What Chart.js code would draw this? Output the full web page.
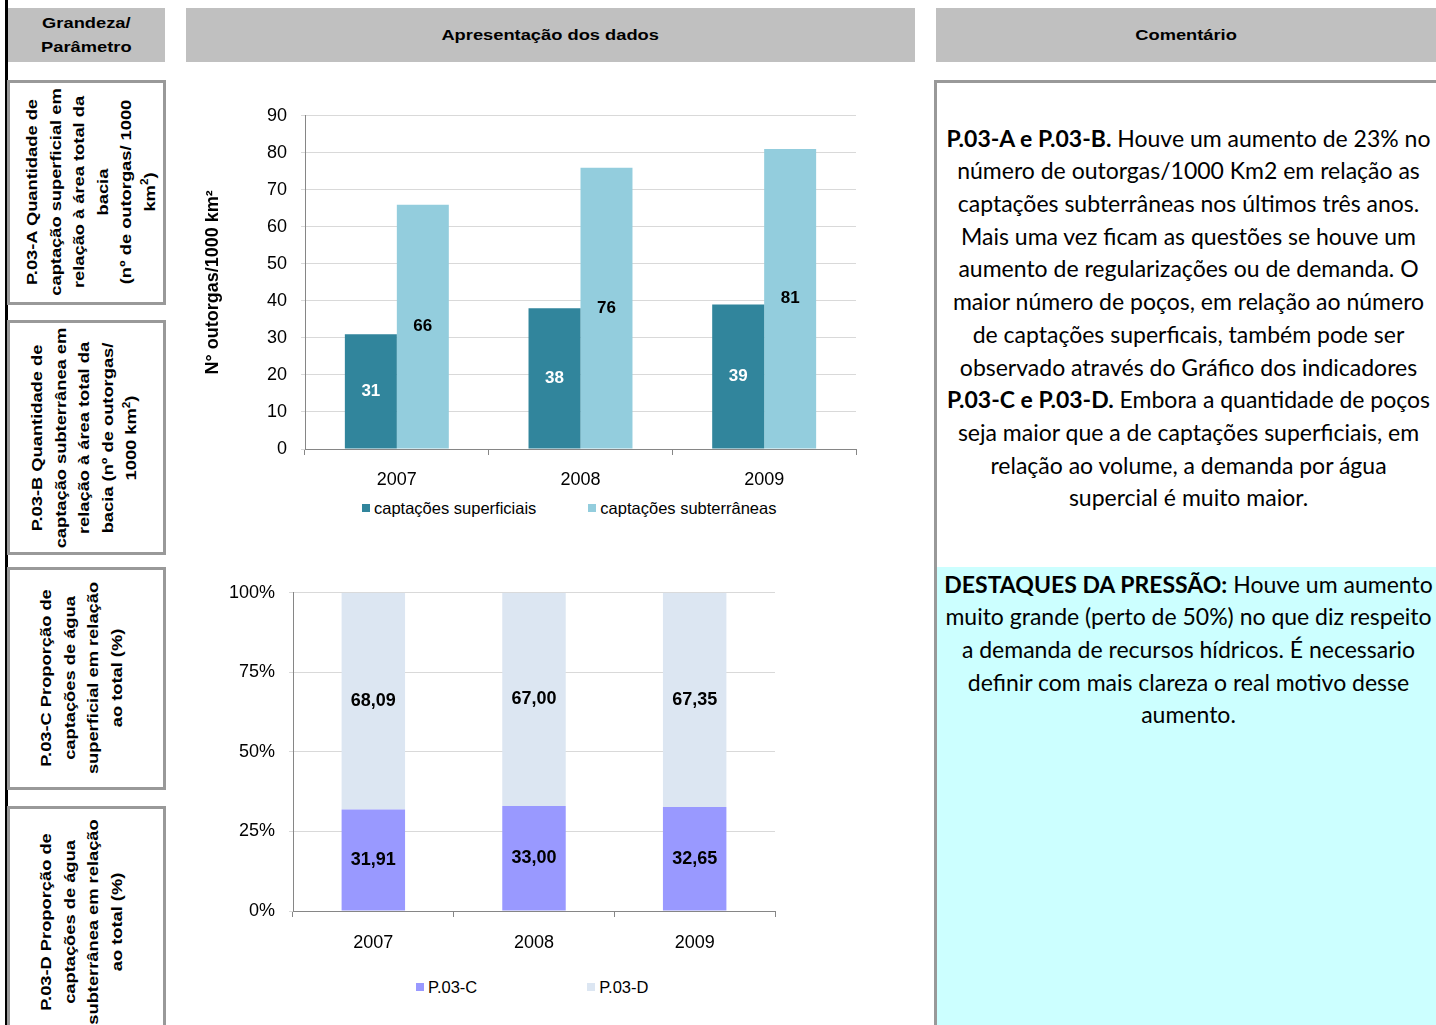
<!DOCTYPE html>
<html lang="pt-BR">
<head>
<meta charset="utf-8">
<title>P.03 – Captações de água</title>
<script src="https://cdn.jsdelivr.net/npm/chart.js@4.4.1/dist/chart.umd.min.js"></script>
<style>
  html, body { margin: 0; padding: 0; background: #fff; }
  body { width: 1436px; height: 1025px; position: relative; overflow: hidden;
         font-family: 'Liberation Sans', Arial, sans-serif; color: #000; }
  .linha-esq { position: absolute; left: 5px; top: 0; width: 3px; height: 1025px; background: #000; }

  .cab { position: absolute; top: 8px; height: 54px; background: #c0c0c0;
         display: flex; align-items: center; justify-content: center;
         text-align: center; font-weight: bold; font-size: 15.5px; line-height: 24px; }
  .cab span { display: inline-block; transform: scaleX(1.18); }

  .celula { position: absolute; left: 7px; width: 159px; box-sizing: border-box;
            border: 3px solid #999; background: #fff; }
  .rotulo-vertical { position: absolute; white-space: nowrap; text-align: center;
                     font-weight: bold; font-size: 15.5px; line-height: 23.5px;
                     transform: translate(-50%, -50%) rotate(-90deg) scaleX(1.18); }

  canvas { position: absolute; }
  .legenda { position: absolute; display: flex; font-size: 16.5px; line-height: 20px; }
  .item-legenda { display: flex; align-items: center; }
  .item-legenda i { display: inline-block; width: 8px; height: 8px; margin-right: 4px; }

  .painel { position: absolute; left: 934px; top: 80px; width: 510px; height: 960px;
            border-left: 3px solid #999; border-top: 3px solid #999; }
  .texto-comentario { position: absolute; left: 940px; width: 497px; text-align: center;
                      white-space: nowrap; font-family: Lato, 'Open Sans', sans-serif;
                      font-size: 23px; line-height: 32.7px; }
  .destaque { position: absolute; left: 937px; top: 567px; width: 499px; height: 470px; background: #ccffff; }
</style>
</head>
<body>
<div class="linha-esq"></div>

<div class="cab" style="left:8px; width:157px;"><span>Grandeza/<br>Parâmetro</span></div>
<div class="cab" style="left:186px; width:729px;"><span>Apresentação dos dados</span></div>
<div class="cab" style="left:936px; width:500px;"><span>Comentário</span></div>

<div class="celula" style="top:80px; height:225px;"></div>
<div class="celula" style="top:320px; height:235px;"></div>
<div class="celula" style="top:567px; height:223px;"></div>
<div class="celula" style="top:806px; height:240px;"></div>

<div class="rotulo-vertical" style="left:90px; top:192px;">P.03-A Quantidade de<br>captação superficial em<br>relação à área total da<br>bacia<br>(nº de outorgas/ 1000<br>km<sup style="font-size:10px; line-height:0;">2</sup>)</div>
<div class="rotulo-vertical" style="left:84px; top:438px;">P.03-B Quantidade de<br>captação subterrânea em<br>relação à área total da<br>bacia (nº de outorgas/<br>1000 km<sup style="font-size:10px; line-height:0;">2</sup>)</div>
<div class="rotulo-vertical" style="left:81px; top:678px;">P.03-C Proporção de<br>captações de água<br>superficial em relação<br>ao total (%)</div>
<div class="rotulo-vertical" style="left:81px; top:922px;">P.03-D Proporção de<br>captações de água<br>subterrânea em relação<br>ao total (%)</div>

<canvas id="graficoOutorgas" width="680" height="403" style="left:190px; top:91px;"></canvas>
<div id="legendaOutorgas" class="legenda" style="left:362px; top:498px; gap:52px;"></div>

<canvas id="graficoProporcao" width="620" height="388" style="left:190px; top:568px;"></canvas>
<div id="legendaProporcao" class="legenda" style="left:416px; top:977px; gap:110px;"></div>

<div class="painel"></div>
<div class="destaque"></div>
<div class="texto-comentario" style="top:121.6px;">
<b>P.03-A e P.03-B.</b> Houve um aumento de 23% no<br>
número de outorgas/1000 Km2 em relação as<br>
captações subterrâneas nos últimos três anos.<br>
Mais uma vez ficam as questões se houve um<br>
aumento de regularizações ou de demanda. O<br>
maior número de poços, em relação ao número<br>
de captações superficais, também pode ser<br>
observado através do Gráfico dos indicadores<br>
<b>P.03-C e P.03-D.</b> Embora a quantidade de poços<br>
seja maior que a de captações superficiais, em<br>
relação ao volume, a demanda por água<br>
supercial é muito maior.
</div>
<div class="texto-comentario" style="top:567.6px;">
<b>DESTAQUES DA PRESSÃO:</b> Houve um aumento<br>
muito grande (perto de 50%) no que diz respeito<br>
a demanda de recursos hídricos. É necessario<br>
definir com mais clareza o real motivo desse<br>
aumento.
</div>

<script>
// dados dos indicadores P.03
const anos = ['2007', '2008', '2009'];
const captSuperficiais = [31, 38, 39];
const captSubterraneas = [66, 76, 81];
const p03C = [31.91, 33.00, 32.65];
const p03D = [68.09, 67.00, 67.35];

const corSuperficial = '#31859c';
const corSubterranea = '#93cddd';
const corP03C = '#9999ff';
const corP03D = '#dce6f2';
const corEixo = '#868686';
const corGrade = '#d9d9d9';

Chart.defaults.font.family = "'Liberation Sans', Arial, sans-serif";
Chart.defaults.color = '#000';

// escreve o valor no meio de cada barra
function criarRotulos(fonte, formato) {
    return {
        id: 'rotulosValores',
        afterDatasetsDraw(chart) {
            const ctx = chart.ctx;
            ctx.save();
            ctx.font = fonte;
            ctx.textAlign = 'center';
            ctx.textBaseline = 'middle';
            chart.data.datasets.forEach((ds, i) => {
                chart.getDatasetMeta(i).data.forEach((barra, j) => {
                    const p = barra.getProps(['x', 'y', 'base'], true);
                    ctx.fillStyle = ds.corRotulo;
                    ctx.fillText(formato(ds.data[j]), p.x, (p.y + p.base) / 2);
                });
            });
            ctx.restore();
        }
    };
}

function montarLegenda(grafico, idLegenda) {
    const caixa = document.getElementById(idLegenda);
    grafico.data.datasets.forEach(ds => {
        const item = document.createElement('span');
        item.className = 'item-legenda';
        const quadrado = document.createElement('i');
        quadrado.style.background = ds.backgroundColor;
        item.appendChild(quadrado);
        item.appendChild(document.createTextNode(ds.label));
        caixa.appendChild(item);
    });
}

const eixoX = {
    grid: { offset: true, drawOnChartArea: false, tickLength: 6, color: corEixo },
    border: { color: corEixo },
    ticks: { padding: 14, font: { size: 18 } },
    afterFit: s => { s.height = 45; }
};

const graficoOutorgas = new Chart(document.getElementById('graficoOutorgas'), {
    type: 'bar',
    data: {
        labels: anos,
        datasets: [
            {
                label: 'captações superficiais',
                data: captSuperficiais,
                backgroundColor: corSuperficial,
                corRotulo: '#fff',
                categoryPercentage: 0.566,
                barPercentage: 1
            },
            {
                label: 'captações subterrâneas',
                data: captSubterraneas,
                backgroundColor: corSubterranea,
                corRotulo: '#000',
                categoryPercentage: 0.566,
                barPercentage: 1
            }
        ]
    },
    options: {
        responsive: false,
        animation: false,
        layout: { padding: { left: 9, right: 14, top: 0, bottom: 0 } },
        plugins: { legend: { display: false }, tooltip: { enabled: false } },
        scales: {
            x: eixoX,
            y: {
                min: 0,
                max: 90,
                ticks: { stepSize: 10, padding: 14, font: { size: 18 } },
                grid: { color: corGrade, tickLength: 4 },
                border: { color: corEixo },
                title: {
                    display: true,
                    text: 'N° outorgas/1000 km²',
                    font: { size: 18, weight: 'bold' },
                    padding: { top: 3, bottom: 0 }
                },
                afterFit: s => { s.width = 106; }
            }
        }
    },
    plugins: [criarRotulos("bold 17px 'Liberation Sans', Arial, sans-serif", v => String(v))]
});

const graficoProporcao = new Chart(document.getElementById('graficoProporcao'), {
    type: 'bar',
    data: {
        labels: anos,
        datasets: [
            {
                label: 'P.03-C',
                data: p03C,
                backgroundColor: corP03C,
                corRotulo: '#000',
                categoryPercentage: 0.395,
                barPercentage: 1
            },
            {
                label: 'P.03-D',
                data: p03D,
                backgroundColor: corP03D,
                corRotulo: '#000',
                categoryPercentage: 0.395,
                barPercentage: 1
            }
        ]
    },
    options: {
        responsive: false,
        animation: false,
        layout: { padding: { left: 0, right: 35, top: 0, bottom: 0 } },
        plugins: { legend: { display: false }, tooltip: { enabled: false } },
        scales: {
            x: Object.assign({}, eixoX, { stacked: true, ticks: { padding: 15, font: { size: 18 } } }),
            y: {
                stacked: true,
                min: 0,
                max: 100,
                ticks: { stepSize: 25, padding: 14, font: { size: 18 }, callback: v => v + '%' },
                grid: { color: corGrade, tickLength: 4 },
                border: { color: corEixo },
                afterFit: s => { s.width = 103; }
            }
        }
    },
    plugins: [criarRotulos("bold 18px 'Liberation Sans', Arial, sans-serif", v => v.toFixed(2).replace('.', ','))]
});

montarLegenda(graficoOutorgas, 'legendaOutorgas');
montarLegenda(graficoProporcao, 'legendaProporcao');
</script>
</body>
</html>
